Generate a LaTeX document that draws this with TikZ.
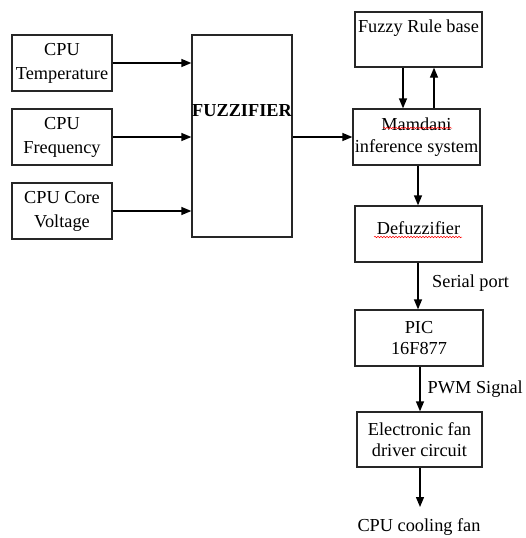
\documentclass[tikz,border=0pt]{standalone}
\usepackage{fontspec}
\setmainfont{Liberation Serif}
\usetikzlibrary{arrows.meta,decorations.pathmorphing}
\begin{document}
\begin{tikzpicture}[x=1pt,y=-1pt,
  box/.style={draw=black!85,line width=1.3pt,rectangle,inner xsep=0pt,inner ysep=2pt,align=center,font=\fontsize{18.3}{24}\selectfont},
  lbl/.style={inner sep=0pt,font=\fontsize{18.3}{24}\selectfont},
  arr/.style={line width=1.3pt,-{Triangle[length=10pt,width=8pt]}},
  squig/.style={red,line width=0.5pt,decorate,decoration={snake,segment length=3pt,amplitude=0.8pt}}]
\useasboundingbox (0,0) rectangle (525,538);
\node[box,minimum width=100,minimum height=56] (temp) at (62,63) {CPU\\Temperature};
\node[box,minimum width=100,minimum height=56] (freq) at (62,137) {CPU\\Frequency};
\node[box,minimum width=100,minimum height=56] (volt) at (62,211) {CPU Core\\Voltage};
\node[box,minimum width=100,minimum height=202,
  label={[lbl,anchor=north,yshift=-70pt,font=\fontsize{18.3}{24}\selectfont\bfseries]north:FUZZIFIER}] (fuzz) at (242,136) {};
\node[box,minimum width=127,minimum height=55,
  label={[lbl,anchor=north,yshift=-8pt]north:Fuzzy Rule base}] (rule) at (418.5,39.5) {};
\node[box,minimum width=127,minimum height=56] (mam) at (416.5,137) {Mamdani\\[-2pt]inference system};
\node[box,minimum width=127,minimum height=56,
  label={[lbl,anchor=center,yshift=6pt]center:Defuzzifier}] (defz) at (418.5,234) {};
\node[box,minimum width=128,minimum height=56] (pic) at (419,338) {PIC\\[-3pt]16F877};
\node[box,minimum width=125,minimum height=55] (elec) at (419.5,439.5) {Electronic fan\\[-3pt]driver circuit};
\node[lbl] (fan) at (419,527) {CPU cooling fan};
\coordinate (fanend) at (420,507);
\node[lbl,anchor=west] (serial) at (432,283) {Serial port};
\node[lbl,anchor=east] (pwm) at (523,389) {PWM Signal};
% connectors
\draw[arr] (temp.east) -- (temp.east -| fuzz.west);
\draw[arr] (freq.east) -- (freq.east -| fuzz.west);
\draw[arr] (volt.east) -- (volt.east -| fuzz.west);
\draw[arr] (fuzz.east |- mam.west) -- (mam.west);
\draw[arr] (rule.south -| 403,0) -- (mam.north -| 403,0);
\draw[arr] (mam.north -| 434,0) -- (rule.south -| 434,0);
\draw[arr] (mam.south -| 418,0) -- (defz.north -| 418,0);
\draw[arr] (defz.south -| 418,0) -- (pic.north -| 418,0);
\draw[arr] (pic.south -| 420,0) -- (elec.north -| 420,0);
\draw[arr] (elec.south -| 420,0) -- (fanend);
% spell-check squiggles
\draw[squig] (383,128) -- (452,128);
\draw[squig] (374,237) -- (462,237);
\end{tikzpicture}
\end{document}
